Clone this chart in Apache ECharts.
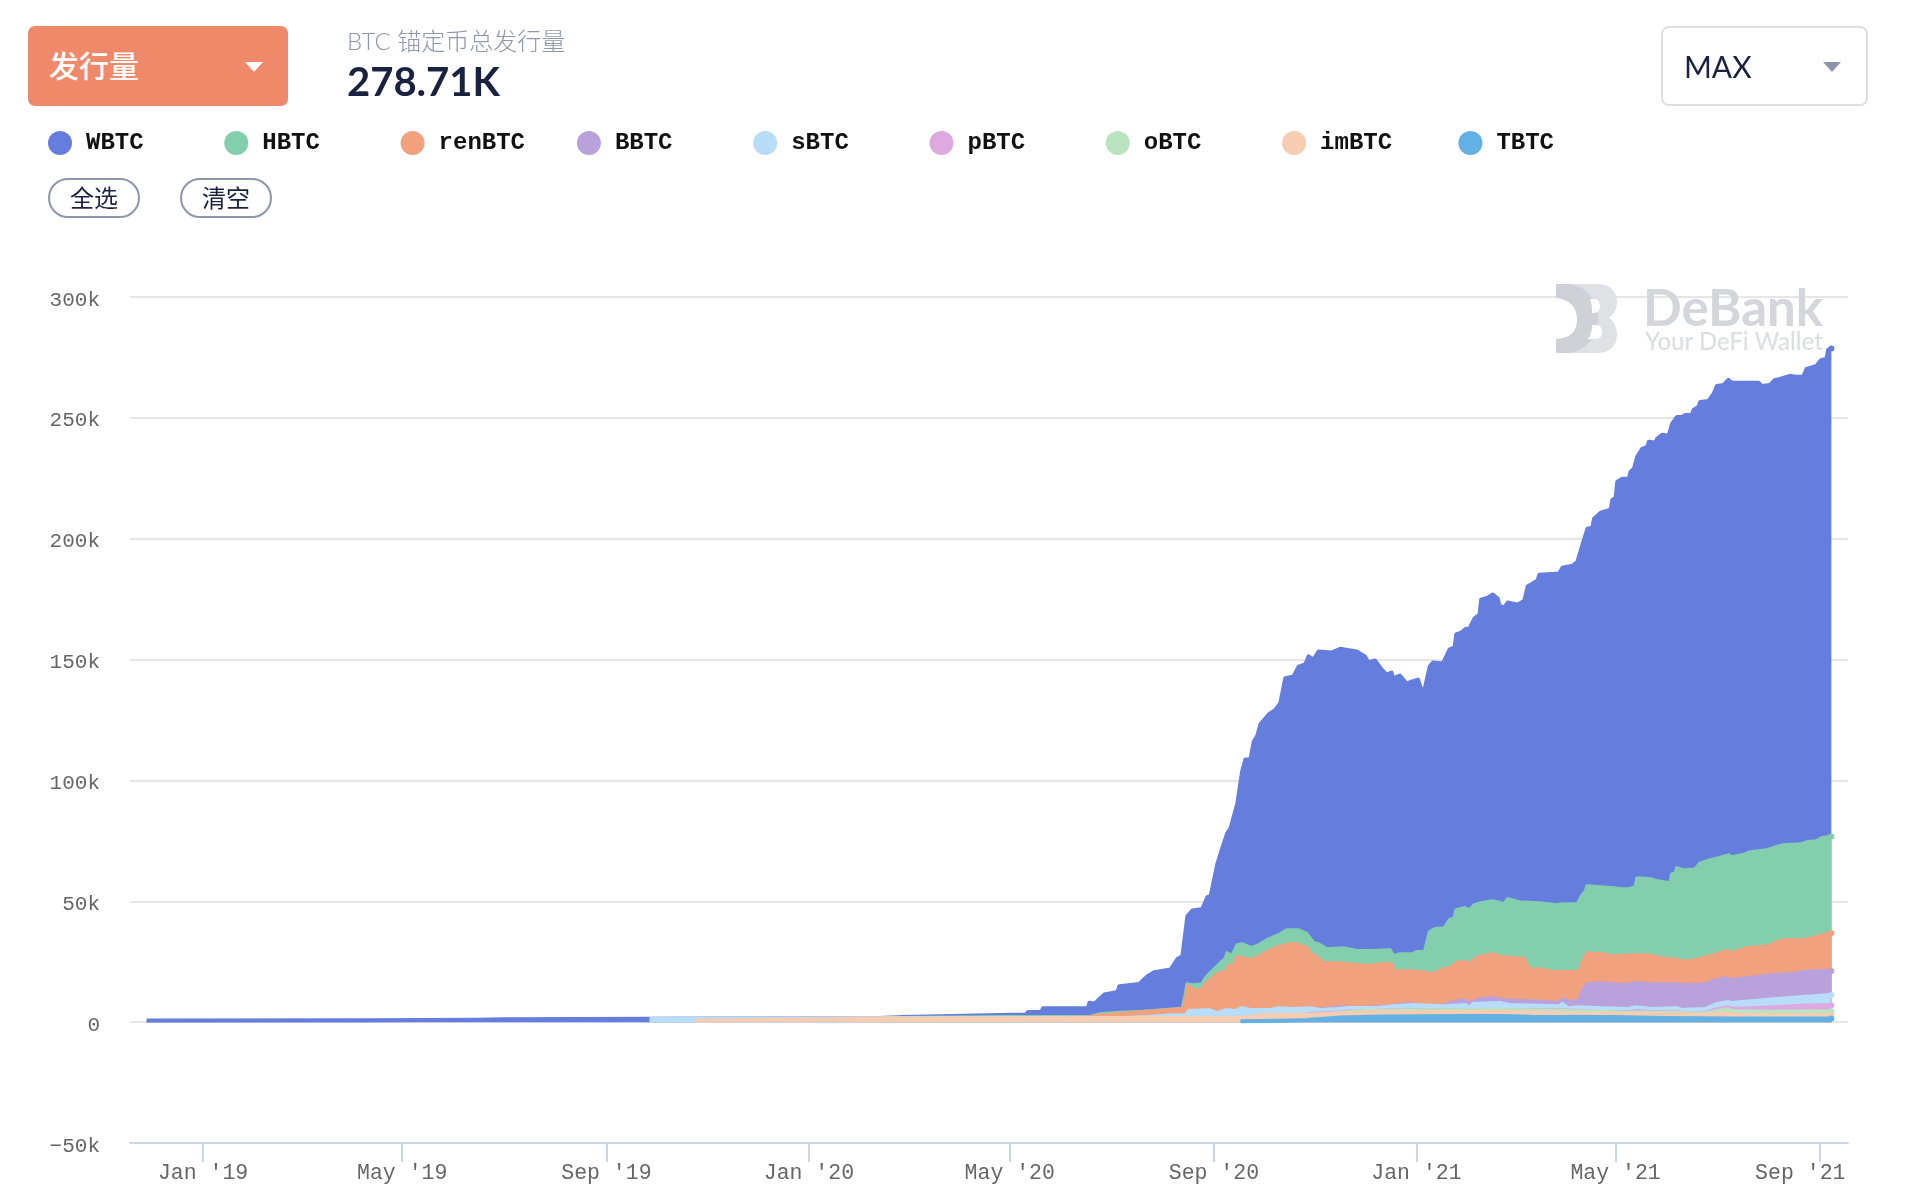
<!DOCTYPE html>
<html lang="zh">
<head>
<meta charset="utf-8">
<title>BTC 锚定币总发行量</title>
<script src="https://cdn.jsdelivr.net/npm/echarts@6/dist/echarts.min.js"></script>
<style>
html,body{margin:0;padding:0;background:#fff;width:1906px;height:1204px;overflow:hidden}
#chart{position:absolute;left:0;top:0;width:1906px;height:1204px}
.ui{position:absolute;box-sizing:border-box;font-family:Lato,"Noto Sans CJK SC",sans-serif}
.tri{position:absolute;width:0;height:0;border-left:9px solid transparent;border-right:9px solid transparent}
#metricBtn{left:28px;top:26px;width:260px;height:80px;background:#F0886A;border-radius:7px;color:#fff;font-size:30px;line-height:78px;padding-left:21px;font-weight:500}
#title{left:347px;top:24px;font-size:24px;line-height:34px;color:#8E96AE;font-weight:300}
#value{left:347px;top:56px;font-size:40px;line-height:50px;color:#192240;font-weight:700}
#rangeBtn{left:1661px;top:26px;width:207px;height:80px;border:2px solid #DDDFE3;border-radius:8px;color:#192240;font-size:30px;line-height:76px;padding-left:21px}
.pill{top:178px;height:40px;width:92px;border:2px solid #8E96AE;border-radius:20px;color:#192240;font-size:24px;line-height:35px;text-align:center;background:#fff}
#logo{position:absolute;left:1556px;top:284px}
#wmA{left:1643px;top:287px;font-size:51px;line-height:40px;font-weight:700;color:#D5D6DC}
#wmB{left:1645px;top:329px;font-size:24px;line-height:24px;font-weight:500;color:#DDDEE3}
</style>
</head>
<body>
<div id="chart"></div>
<div class="ui" id="metricBtn">发行量<span class="tri" style="left:217px;top:36px;border-top:10px solid #fff"></span></div>
<div class="ui" id="title">BTC 锚定币总发行量</div>
<div class="ui" id="value">278.71K</div>
<div class="ui" id="rangeBtn">MAX<span class="tri" style="left:160px;top:34px;border-top:10px solid #8E96AE"></span></div>
<div class="ui pill" style="left:48px">全选</div>
<div class="ui pill" style="left:180px">清空</div>
<svg id="logo" width="62" height="70" viewBox="0 0 62 70">
  <path d="M0 0H42C55 0 61 9 61 18C61 26 57 31 53 34C58 37 61 43 61 51C61 62 53 69 42 69H0V55H12C24 53 30 45 30 34C30 23 22 14 0 14Z" fill="#E0E1E5"/>
  <path d="M0 0H14C32 3 42 17 42 35C42 53 30 66 14 69H0V55C16 54 21 46 21 35C21 24 14 15 0 14Z" fill="#D0D1D6"/>
  <path d="M34 15H38C42 15 44 18 44 22C44 26 42 29 38 29H36C36 24 36 20 34 15ZM36 41H40C44 41 46 44 46 48C46 52 44 55 40 55H32C35 51 36 46 36 41Z" fill="#fff"/>
</svg>
<div class="ui" id="wmA">DeBank</div>
<div class="ui" id="wmB">Your DeFi Wallet</div>
<script>
// The chart stacks the bands, so each list holds the stacked height at that date.
const seriesNames = ['WBTC','HBTC','renBTC','BBTC','sBTC','pBTC','oBTC','imBTC','TBTC'];
const seriesColors = ['#657EDD','#83CEAC','#F2A17E','#B9A2DC','#B8DDF9','#DEA9E0','#BAE3C0','#F7CDB1','#63B1E4'];

const WBTC = [[-34,700],[100,800],[165,1000],[182,1200],[269,1400],[300,1500],[360,1600],[407,1700],[408,2000],[422,2100],[423,2900],[480,3000],[496,3200],[497,4200],[505,4200],[506,5700],[533,5900],[534,8000],[537,7600],[543,11500],[551,12500],[552,14900],[564,15800],[569,19000],[573,20700],[583,21800],[587,26100],[590,27300],[593,43800],[596,46200],[602,46800],[605,51700],[607,52100],[611,65300],[614,71900],[617,78100],[619,80200],[623,90100],[626,103700],[628,108700],[631,108700],[633,116100],[635,118200],[637,123200],[642,127300],[646,129200],[649,132000],[652,142300],[657,143000],[660,147100],[664,148000],[666,151300],[669,150000],[672,153300],[680,152900],[685,154500],[695,153300],[700,151300],[702,148800],[706,149600],[710,145900],[713,143800],[716,144600],[717,142200],[721,143400],[725,140100],[728,140900],[732,141700],[734,137200],[736,138000],[739,147100],[741,148800],[747,148400],[751,154200],[754,155000],[755,160400],[758,161200],[761,162800],[763,162800],[766,167000],[769,168600],[770,174800],[774,175600],[777,176900],[780,175200],[781,172300],[784,171500],[786,173600],[792,172700],[796,174400],[798,180200],[804,182700],[805,185100],[817,185600],[819,188000],[825,188800],[828,190500],[831,197500],[834,204100],[837,204600],[838,208300],[842,210800],[848,212000],[849,216100],[851,217000],[852,223600],[855,224800],[859,224800],[860,227700],[862,228900],[864,233900],[867,237200],[870,238000],[871,240100],[875,239700],[876,241300],[879,243000],[883,242600],[885,247500],[888,250400],[891,250400],[893,251200],[897,251200],[898,253300],[901,254600],[902,256600],[907,257000],[910,259900],[912,263200],[916,263600],[919,265700],[921,264500],[937,264500],[939,263200],[944,263600],[947,265700],[950,266100],[956,267400],[959,267000],[964,267000],[966,270200],[972,271500],[975,274000],[978,274400],[979,278100],[981,278710]];

const HBTC = [[408,1600],[480,2100],[534,2100],[540,3300],[552,3900],[566,4300],[590,5500],[592,11600],[593,15700],[596,15300],[602,15700],[604,18200],[608,21100],[613,24400],[616,26100],[617,28500],[620,27300],[623,31800],[626,32200],[632,30600],[637,32200],[642,34300],[648,36000],[653,38000],[660,38000],[665,36400],[669,32700],[672,32200],[677,30200],[687,30600],[695,29400],[705,29400],[715,29800],[717,27300],[721,28100],[729,28100],[731,29000],[736,29000],[739,37200],[742,38500],[748,38900],[751,42200],[754,43000],[755,46300],[760,47200],[763,46300],[766,48400],[770,49200],[777,50000],[784,48800],[786,50900],[793,49600],[805,49200],[816,48400],[819,48800],[828,48800],[831,52500],[833,54200],[834,56200],[850,55400],[854,55000],[859,55000],[863,55800],[864,59500],[872,59100],[876,58300],[880,57900],[884,57500],[885,61200],[887,61600],[888,63700],[892,62800],[899,63200],[902,65700],[908,67000],[913,67800],[919,69000],[921,68200],[929,69400],[932,70300],[942,71100],[947,72300],[952,73200],[963,73600],[966,74400],[972,74800],[975,76100],[981,76800]];

const renBTC = [[520,1700],[534,1900],[538,2500],[558,3700],[575,4600],[590,5400],[592,7500],[593,14900],[598,12800],[602,13700],[604,15700],[611,19900],[617,21100],[618,23600],[620,21900],[623,26900],[626,26500],[632,25600],[641,29000],[646,30600],[654,32200],[659,32200],[665,30600],[667,28100],[670,27300],[675,24400],[685,24400],[689,24000],[703,23200],[709,24000],[716,24000],[717,21100],[729,21100],[737,20300],[741,19900],[747,21900],[751,22300],[756,24800],[761,24800],[763,23600],[767,26500],[769,26900],[776,28100],[783,26900],[796,26100],[798,22700],[801,21500],[805,21900],[814,20700],[829,20700],[831,24800],[834,28500],[843,28100],[849,27300],[861,27700],[870,27700],[879,26300],[888,25700],[892,25000],[899,25600],[906,26900],[918,29400],[921,28500],[930,30600],[943,31400],[947,32700],[952,33900],[964,33900],[974,35600],[981,36900]];

const BBTC = [[669,5000],[686,6200],[697,5800],[707,6200],[715,6600],[726,7500],[737,6600],[747,6900],[754,8300],[760,9100],[762,7500],[769,9500],[777,9900],[783,9100],[795,8700],[807,8300],[817,7900],[819,9500],[822,8300],[829,8900],[831,12800],[834,15700],[842,16100],[856,15300],[863,16100],[872,15700],[888,15700],[892,15300],[905,15700],[912,17400],[917,18200],[920,17400],[946,19400],[958,19900],[968,21100],[981,21200]];

const sBTC = [[269,1300],[297,1500],[400,1600],[558,1800],[569,2100],[585,2900],[592,2900],[594,4600],[606,5000],[611,3700],[616,5000],[622,4600],[626,5800],[631,5000],[643,5000],[648,5800],[657,5400],[667,5800],[673,5000],[683,5400],[689,5800],[707,5800],[717,6600],[729,7100],[747,6600],[761,7100],[762,5000],[765,7500],[781,7900],[787,7100],[817,6600],[819,7500],[822,5800],[829,6200],[843,5800],[858,5400],[863,6200],[873,5400],[888,5800],[891,5000],[905,5400],[912,7500],[919,8300],[921,7900],[946,9500],[966,10500],[981,11200]];

const pBTC = [[665,3300],[690,4300],[720,5000],[770,5000],[817,5000],[840,4200],[861,4200],[863,4600],[873,4200],[889,4200],[891,3700],[905,3700],[912,5400],[919,6200],[921,5400],[946,6200],[966,6900],[981,7000]];

const oBTC = [[677,3400],[700,4600],[721,4800],[781,5000],[817,4700],[854,4000],[888,3900],[905,3500],[912,4500],[919,5300],[921,4500],[946,4300],[981,4500]];

const imBTC = [[297,700],[350,1100],[406,1500],[491,1600],[590,1700],[625,1800],[642,3000],[665,3000],[707,4200],[721,4000],[781,4300],[801,3900],[825,3600],[888,3200],[905,3000],[918,3700],[921,3200],[936,2900],[981,2900]];

const TBTC = [[625,400],[650,600],[665,900],[675,1400],[685,1900],[710,2300],[760,2500],[783,2500],[800,2200],[850,2100],[880,1700],[920,1500],[981,1500]];

const bandLists = [WBTC,HBTC,renBTC,BBTC,sBTC,pBTC,oBTC,imBTC,TBTC];

const tickDates = ['2019-01-01','2019-05-01','2019-09-01','2020-01-01','2020-05-01','2020-09-01','2021-01-01','2021-05-01','2021-09-01'];
const tickLabels = ["Jan '19","May '19","Sep '19","Jan '20","May '20","Sep '20","Jan '21","May '21","Sep '21"];
const axisStartDay = -44;
const axisEndDay = 991;

const DAY = 86400000;
const BASE = Date.UTC(2019,0,1);
const tickDays = tickDates.map(s => Math.round((new Date(s + 'T00:00:00Z').getTime() - BASE) / DAY));
const MONO = '"Liberation Mono",monospace';
const lastTick = tickDays[tickDays.length-1];

const chart = echarts.init(document.getElementById('chart'));
chart.setOption({
  animation:false,
  backgroundColor:'#fff',
  legend:seriesNames.map((name,i)=>({
    show:true,left:48+176.3*i,top:131,padding:0,itemWidth:24,itemHeight:24,itemGap:0,selectedMode:false,
    icon:'circle',data:[name],
    formatter:n=>'{a|'+n+'}',
    textStyle:{rich:{a:{fontFamily:MONO,fontWeight:'bold',fontSize:24,color:'#111',padding:[0,0,0,9],align:'left'}}}
  })),
  grid:{left:130,right:58,top:297,bottom:61,containLabel:false},
  xAxis:{
    type:'value',min:axisStartDay,max:axisEndDay,
    axisLine:{onZero:false,lineStyle:{color:'#CCD6EB',width:2}},
    axisTick:{show:true,length:19,customValues:tickDays,lineStyle:{color:'#CCD6EB',width:2}},
    axisLabel:{customValues:tickDays,showMinLabel:true,showMaxLabel:true,hideOverlap:false,margin:19,
      fontFamily:MONO,fontSize:21.5,color:'#666',
      rich:{last:{fontFamily:MONO,fontSize:21.5,color:'#666',padding:[0,39,0,0]}},
      formatter:v=>{
        const t=tickLabels[tickDays.indexOf(v)]||'';
        return v===lastTick?'{last|'+t+'}':t;
      }},
    splitLine:{show:false}
  },
  yAxis:{
    type:'value',min:-50000,max:300000,interval:50000,
    axisLine:{show:false},axisTick:{show:false},
    axisLabel:{margin:30,fontFamily:MONO,fontSize:21,color:'#666',verticalAlign:'top',lineHeight:6,
      formatter:v=>v===0?'0':(v<0?'\u2212':'')+Math.abs(v/1000)+'k'},
    splitLine:{lineStyle:{color:'#E6E6E6',width:2}}
  },
  series:seriesNames.map((name,i)=>({
    name,type:'line',z:2+i,
    data:bandLists[i],
    showSymbol:true,showAllSymbol:true,symbol:'circle',
    symbolSize:(v,p)=>p.dataIndex===bandLists[i].length-1?6:0,
    lineStyle:{color:seriesColors[i],width:4,join:'round'},
    itemStyle:{color:seriesColors[i]},
    areaStyle:{color:seriesColors[i],opacity:1},
    sampling:'none',smooth:false,silent:true
  }))
});
</script>
</body>
</html>
